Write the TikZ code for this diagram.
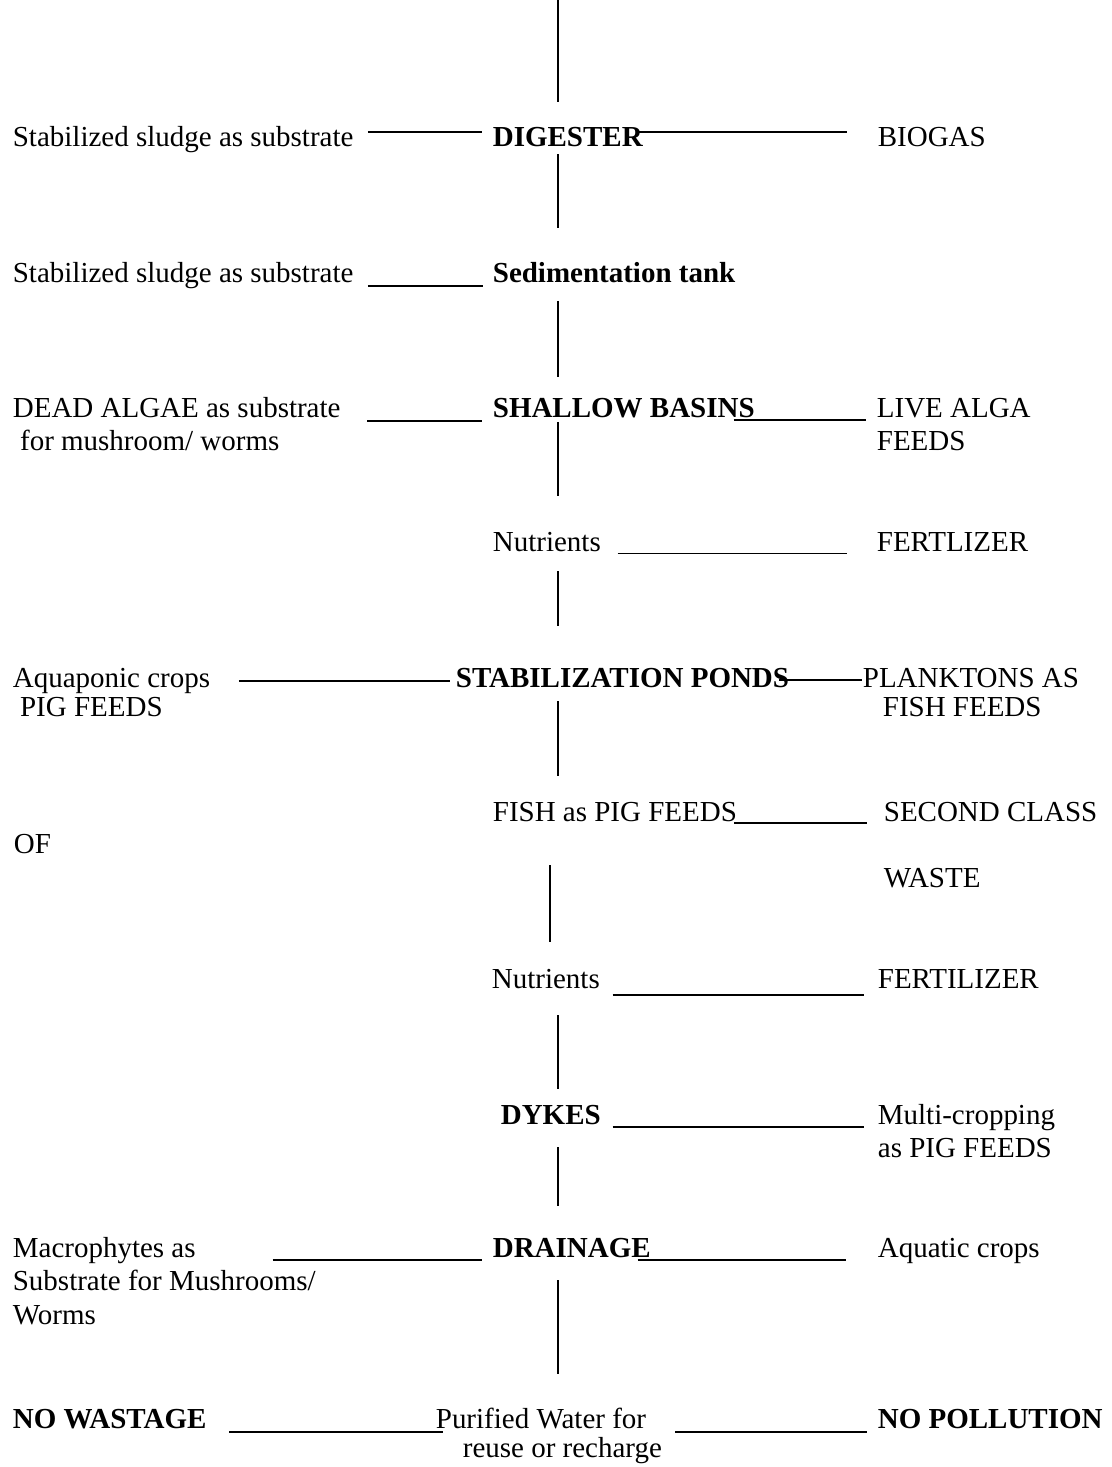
\documentclass[tikz,border=0pt]{standalone}
\usepackage{fontspec}
\setmainfont{Liberation Serif}
\newcommand{\txtrows}[1]{\begin{tabular}[t]{@{}l@{}}#1\end{tabular}}

\begin{document}
\begin{tikzpicture}[x=0.02cm,y=-0.02cm,line width=1pt,
    every node/.style={inner sep=0pt,font=\fontsize{16.5}{19.3}\selectfont},
    txt/.style={anchor=base west},
    stage/.style={anchor=base west,text height=0.41cm,text depth=0.15cm},
    main/.style={stage,font=\fontsize{16.5}{19.3}\selectfont\bfseries},
    strong/.style={txt,font=\fontsize{16.5}{19.3}\selectfont\bfseries}]
    \useasboundingbox (0,0) rectangle (1112,1467);
    \coordinate (trunk) at (558,0);
    \coordinate (trunkb) at (550,0);

    % left side
    \node[txt] (sl1) at (12,146) {Stabilized sludge as substrate};
    \node[txt] (sl2) at (12,282) {Stabilized sludge as substrate};
    \node[txt] (dead) at (12,417) {\txtrows{DEAD ALGAE as substrate\\\ for mushroom/ worms}};
    \node[txt] (aqua) at (12,687) {\txtrows{Aquaponic crops\\[-2.3pt]\ PIG FEEDS}};
    \node[txt] (of) at (13,853) {OF};
    \node[txt] (macro) at (12,1257) {\txtrows{Macrophytes as\\Substrate for Mushrooms/\\Worms}};
    \node[strong] (nowaste) at (12,1428) {NO WASTAGE};

    % middle
    \node[main] (dig) at (492,146) {DIGESTER};
    \node[main] (sed) at (492,282) {Sedimentation tank};
    \node[main] (shallow) at (492,417) {SHALLOW BASINS};
    \node[stage] (nut1) at (492,551) {Nutrients};
    \node[main] (stab) at (455,687) {STABILIZATION PONDS};
    \node[stage] (fish) at (492,821) {FISH as PIG FEEDS};
    \node[stage] (nut2) at (491,988) {Nutrients};
    \node[main] (dykes) at (500,1124) {DYKES};
    \node[main] (drain) at (492,1257) {DRAINAGE};
    \node[txt] (pur) at (435,1428) {\txtrows{Purified Water for\\[-2.3pt]\hspace{0.54cm}reuse or recharge}};

    % right side
    \node[txt] (biogas) at (877,146) {BIOGAS};
    \node[txt] (live) at (876,417) {\txtrows{LIVE ALGA\\FEEDS}};
    \node[txt] (fert1) at (876,551) {FERTLIZER};
    \node[txt] (plank) at (862,687) {\txtrows{PLANKTONS AS\\[-2.3pt]\hspace{0.4cm}FISH FEEDS}};
    \node[txt] (second) at (883,821) {\txtrows{SECOND CLASS\\[18.7pt]WASTE}};
    \node[txt] (fert2) at (877,988) {FERTILIZER};
    \node[txt] (multi) at (877,1124) {\txtrows{Multi-cropping\\as PIG FEEDS}};
    \node[txt] (aquatic) at (877,1257) {Aquatic crops};
    \node[strong] (nopoll) at (877,1428) {NO POLLUTION};

    % main line
    \draw[shorten >=0.45cm] (trunk) -- (trunk |- dig.north);
    \draw[shorten >=0.65cm] (trunk |- dig.south) -- (trunk |- sed.north);
    \draw[shorten <=0.21cm,shorten >=0.37cm] (trunk |- sed.south) -- (trunk |- shallow.north);
    \draw[shorten <=-0.07cm,shorten >=0.67cm] (trunk |- shallow.south) -- (trunk |- nut1.north);
    \draw[shorten <=0.24cm,shorten >=0.79cm] (trunk |- nut1.south) -- (trunk |- stab.north);
    \draw[shorten <=0.12cm,shorten >=0.47cm] (trunk |- stab.south) -- (trunk |- fish.north);
    \draw[shorten <=0.72cm,shorten >=0.49cm] (trunkb |- fish.south) -- (trunkb |- nut2.north);
    \draw[shorten <=0.38cm,shorten >=0.27cm] (trunk |- nut2.south) -- (trunk |- dykes.north);
    \draw[shorten <=0.3cm,shorten >=0.59cm] (trunk |- dykes.south) -- (trunk |- drain.north);
    \draw[shorten <=0.3cm,shorten >=0.58cm] (trunk |- drain.south) -- (trunk |- pur.north);

    % side lines
    \draw ([xshift=0.27cm,yshift=0.28cm]sl1.base east) -- ([xshift=-0.2cm,yshift=0.28cm]dig.base west);
    \draw ([xshift=-0.1cm,yshift=0.28cm]dig.base east) -- ([xshift=-0.61cm,yshift=0.28cm]biogas.base west);
    \draw ([xshift=0.27cm,yshift=-0.08cm]sl2.base east) -- ([xshift=-0.18cm,yshift=-0.08cm]sed.base west);
    \draw ([xshift=0.52cm,yshift=-0.08cm]dead.base east) -- ([xshift=-0.2cm,yshift=-0.08cm]shallow.base west);
    \draw ([xshift=-0.44cm,yshift=-0.06cm]shallow.base east) -- ([xshift=-0.2cm,yshift=-0.06cm]live.base west);
    \draw ([xshift=0.32cm,yshift=-0.05cm]nut1.base east) -- ([xshift=-0.58cm,yshift=-0.05cm]fert1.base west);
    \draw ([xshift=0.56cm,yshift=0.12cm]aqua.base east) -- ([xshift=-0.1cm,yshift=0.12cm]stab.base west);
    \draw ([xshift=-0.21cm,yshift=0.14cm]stab.base east) -- ([yshift=0.14cm]plank.base west);
    \draw ([xshift=-0.07cm,yshift=-0.04cm]fish.base east) -- ([xshift=-0.33cm,yshift=-0.04cm]second.base west);
    \draw ([xshift=0.24cm,yshift=-0.14cm]nut2.base east) -- ([xshift=-0.26cm,yshift=-0.14cm]fert2.base west);
    \draw ([xshift=0.22cm,yshift=-0.06cm]dykes.base east) -- ([xshift=-0.26cm,yshift=-0.06cm]multi.base west);
    \draw ([xshift=-0.88cm,yshift=-0.06cm]macro.base east) -- ([xshift=-0.2cm,yshift=-0.06cm]drain.base west);
    \draw ([xshift=-0.28cm,yshift=-0.06cm]drain.base east) -- ([xshift=-0.62cm,yshift=-0.06cm]aquatic.base west);
    \draw ([xshift=0.44cm,yshift=-0.08cm]nowaste.base east) -- ([xshift=0.16cm,yshift=-0.08cm]pur.base west);
    \draw ([xshift=0.25cm,yshift=-0.08cm]pur.base east) -- ([xshift=-0.2cm,yshift=-0.08cm]nopoll.base west);
\end{tikzpicture}
\end{document}
